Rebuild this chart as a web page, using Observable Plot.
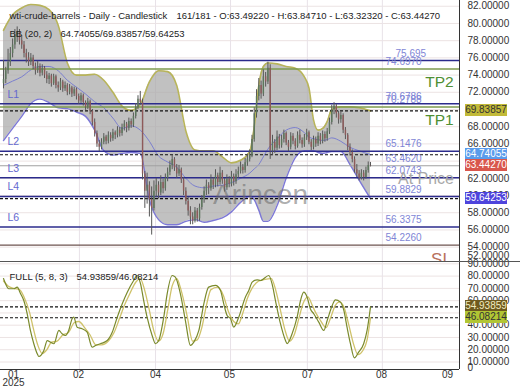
<!DOCTYPE html>
<html><head><meta charset="utf-8">
<script src="https://cdn.jsdelivr.net/npm/d3@7"></script>
<script src="https://cdn.jsdelivr.net/npm/@observablehq/plot@0.6"></script>
<style>
body{margin:0;background:#fff;}
#wrap{position:relative;width:520px;height:390px;overflow:hidden;font-family:"Liberation Sans",Arial,sans-serif;background:#fff;}
#main{position:absolute;left:0;top:0;}
#stoch{position:absolute;left:0;top:261px;}
.box{position:absolute;left:465px;width:42px;height:12px;font-size:10px;line-height:12px;text-align:center;font-family:"Liberation Sans",Arial,sans-serif;}
.hline{position:absolute;left:0;width:520px;height:1px;background:#555;}
</style></head>
<body><div id="wrap"><div id="main"></div><div id="stoch"></div></div>
<script>
// ---------- data ----------
const titleParts = ["wti-crude-barrels - Daily - Candlestick", "161/181 - O:63.49220 - H:63.84710 - L:63.32320 - C:63.44270"];
const bbParts = ["BB (20, 2)", "64.74055/69.83857/59.64253"];
const stochParts = ["FULL (5, 8, 3)", "54.93859/46.08214"];

const opens = [73.0,73.5,74.5,75.5,76.5,77.5,78.5,79.0,78.0,77.5,
76.5,76.0,75.5,76.0,75.0,74.5,75.0,74.2,74.8,74.0,
73.5,73.9,73.0,73.8,72.8,72.5,73.2,72.4,72.8,72.0,
72.5,71.8,72.3,71.5,71.0,71.6,70.8,70.3,70.9,69.8,
68.5,67.2,66.0,65.6,66.2,66.8,66.3,67.0,66.6,67.3,
67.0,67.6,67.2,67.9,68.3,67.8,68.6,68.2,69.2,70.3,
71.2,70.8,62.5,60.5,61.2,59.5,58.5,60.5,61.2,60.3,
61.5,60.8,62.0,62.7,63.5,64.2,63.2,62.5,63.0,61.8,
60.5,59.3,58.2,57.5,57.0,58.2,57.3,58.6,59.5,60.5,
61.2,60.8,61.8,61.2,62.3,61.5,62.6,61.7,60.9,61.9,
61.3,62.2,61.6,62.4,62.8,63.3,62.9,63.8,64.2,64.6,
66.5,69.5,71.5,72.8,71.8,73.8,73.2,74.8,65.2,66.2,
65.5,66.8,65.8,66.5,67.2,66.1,65.6,66.9,66.3,65.7,
67.0,66.4,65.9,66.7,67.3,66.2,65.6,66.5,66.0,66.9,
66.3,67.1,66.6,67.4,68.5,70.0,70.4,69.5,68.8,69.3,
67.6,67.0,65.6,65.0,64.2,63.0,62.5,62.0,62.6,62.1,
62.9,63.4922];
const highs = [75.7,74.9,77.0,77.2,78.2,79.3,79.6,79.3,78.6,77.9,
77.0,76.6,76.5,76.3,75.4,75.6,75.3,75.2,75.0,74.4,
74.2,74.1,74.1,74.0,73.2,73.6,73.4,73.2,73.0,72.9,
72.7,72.6,72.5,71.8,71.9,71.8,71.0,71.3,71.1,70.0,
68.9,67.5,66.4,66.6,67.2,67.0,67.4,67.3,67.7,67.5,
68.0,67.9,68.3,68.7,68.5,69.0,68.9,69.6,70.7,71.6,
72.1,71.2,62.8,62.6,61.6,61.0,61.7,62.0,61.6,62.3,
61.9,62.5,63.2,64.0,64.7,64.4,63.6,63.5,63.2,62.1,
60.9,59.8,58.7,58.0,58.6,58.5,59.0,60.0,61.0,61.8,
61.5,62.4,62.1,63.0,62.6,63.3,62.9,62.0,62.4,62.2,
62.8,62.5,63.0,63.3,63.9,63.6,64.3,64.8,65.3,67.0,
70.2,72.3,73.6,73.3,74.6,74.3,75.5,75.2,67.0,66.5,
67.5,67.1,67.0,67.6,67.4,66.4,67.3,67.2,66.6,67.4,
67.6,66.7,67.1,67.7,67.5,66.5,66.9,66.8,67.3,67.2,
67.5,67.4,67.8,69.0,70.5,70.8,70.6,69.8,69.7,69.5,
67.9,67.2,66.0,65.3,64.5,63.6,62.9,63.0,62.9,63.3,
63.9,63.8471];
const lows = [72.4,73.0,74.1,75.0,76.0,77.0,77.8,77.5,77.0,76.0,
75.4,75.0,75.1,74.6,74.0,74.2,73.8,73.9,73.6,73.0,
72.9,72.6,72.8,72.4,72.0,72.2,72.0,72.1,71.6,71.7,
71.4,71.5,71.1,70.6,70.7,70.4,69.9,70.0,69.4,68.1,
66.8,65.6,65.1,65.3,65.9,65.9,66.0,66.2,66.3,66.5,
66.7,66.8,66.9,67.5,67.3,67.5,67.8,67.9,68.9,70.0,
70.5,61.8,58.5,59.0,57.5,55.4,58.2,59.8,59.6,60.0,
60.2,60.5,61.6,62.3,63.0,62.8,62.0,62.2,61.4,60.0,
58.9,57.6,56.6,56.6,56.8,56.9,57.0,58.3,59.1,60.0,
60.1,60.5,60.7,60.9,61.0,61.2,61.3,60.4,60.6,60.9,
61.0,61.1,61.3,62.0,62.5,62.5,62.6,63.4,63.9,64.4,
66.2,69.0,71.0,71.2,71.5,72.6,72.9,64.2,64.7,64.9,
65.2,65.4,65.5,66.1,65.8,65.1,65.3,65.9,65.3,65.5,
66.0,65.5,65.6,66.4,65.9,65.2,65.3,65.6,65.7,65.9,
66.0,66.2,66.3,67.1,68.2,69.4,69.0,68.3,68.4,67.2,
66.5,65.2,64.6,63.8,62.6,62.1,61.7,61.8,61.7,61.9,
62.6,63.3232];
const closes = [73.5,74.5,75.5,76.5,77.5,78.5,79.0,78.0,77.5,76.5,
76.0,75.5,76.0,75.0,74.5,75.0,74.2,74.8,74.0,73.5,
73.9,73.0,73.8,72.8,72.5,73.2,72.4,72.8,72.0,72.5,
71.8,72.3,71.5,71.0,71.6,70.8,70.3,70.9,69.8,68.5,
67.2,66.0,65.6,66.2,66.8,66.3,67.0,66.6,67.3,67.0,
67.6,67.2,67.9,68.3,67.8,68.6,68.2,69.2,70.3,71.2,
70.8,62.5,60.5,61.2,59.5,58.5,60.5,61.2,60.3,61.5,
60.8,62.0,62.7,63.5,64.2,63.2,62.5,63.0,61.8,60.5,
59.3,58.2,57.5,57.0,58.2,57.3,58.6,59.5,60.5,61.2,
60.8,61.8,61.2,62.3,61.5,62.6,61.7,60.9,61.9,61.3,
62.2,61.6,62.4,62.8,63.3,62.9,63.8,64.2,64.6,66.5,
69.5,71.5,72.8,71.8,73.8,73.2,74.8,65.2,66.2,65.5,
66.8,65.8,66.5,67.2,66.1,65.6,66.9,66.3,65.7,67.0,
66.4,65.9,66.7,67.3,66.2,65.6,66.5,66.0,66.9,66.3,
67.1,66.6,67.4,68.5,70.0,70.4,69.5,68.8,69.3,67.6,
67.0,65.6,65.0,64.2,63.0,62.5,62.0,62.6,62.1,62.9,
63.5,63.4427];

const bbIdx = [0,4,8,12,16,20,24,28,32,36,40,44,48,52,56,60,64,68,72,76,80,84,88,92,96,100,104,108,110,112,114,116,120,124,128,132,134,136,138,140,142,144,148,152,156,161];
const bbUpper = [79.2,81.0,81.8,82.2,82.1,81.6,79.8,75.4,74.0,74.0,74.1,73.4,72.0,70.4,69.9,70.6,73.2,74.5,74.4,72.8,67.5,65.3,65.2,65.2,64.5,63.8,64.1,65.1,68.0,72.8,75.0,75.4,75.3,75.0,74.8,73.8,72.5,68.8,67.6,67.8,68.6,70.0,70.3,70.3,70.2,69.83857];
const bbMiddle = [72.8,73.3,73.8,74.6,75.0,75.0,74.5,73.4,72.6,71.8,70.9,70.2,69.0,67.8,68.1,67.6,66.3,64.6,63.9,63.3,62.0,61.1,60.9,61.1,61.2,61.5,62.0,62.6,63.1,63.6,64.5,65.4,66.6,67.6,67.9,67.3,66.8,66.6,66.5,66.4,66.5,66.7,66.3,65.6,65.2,64.74055];
const bbLower = [66.4,67.8,69.2,70.7,71.2,70.8,70.2,70.1,69.7,69.2,67.6,65.2,64.7,64.9,65.0,64.9,59.5,57.2,56.6,56.6,57.0,57.2,56.9,57.1,57.4,58.1,59.2,59.9,59.5,58.3,57.0,57.0,58.8,62.0,64.4,65.2,65.2,65.2,65.0,64.9,65.0,65.1,65.1,63.6,61.8,59.64253];
const bbNow = [69.83857, 64.74055, 59.64253];
const currentPrice = 63.44270;

const levelValues = [75.695, 74.6970, 70.6786, 70.2788, 65.1476, 63.4620, 62.0743, 59.8829, 56.3375, 54.2260];
const levelText = ["75.695","74.6970","70.6786","70.2788","65.1476","63.4620","62.0743","59.8829","56.3375","54.2260"];
const levelKind = ["navy","green","navy","green","navy","gray","navy","navy","navy","brown"];
const lNames = ["L1","L2","L3","L4","L6"];
const lValues = [70.6786, 65.1476, 62.0743, 59.8829, 56.3375];
const tpNames = ["TP2","TP1"];
const tpValues = [74.6970, 70.2788];

const kIdx = [0,0.9,2.3,4.5,6.0,7.5,8.9,10.4,11.8,13.3,14.8,15.5,17.7,19.2,20.6,22.1,24.3,25.7,27.2,28.6,30.1,30.8,32.3,34.5,36.7,38.9,40.4,42.5,45.5,47.7,49.9,52.1,54.3,57.1,58.6,60.1,61.5,63.0,65.2,66.7,68.1,70.3,71.8,74.0,75.4,77.6,79.8,82.0,83.5,85.7,87.9,90.0,93.0,95.2,96.6,98.1,99.6,101.0,103.2,106.1,107.6,109.1,111.3,112.7,116.4,117.8,119.3,121.5,123.7,124.4,126.6,128.8,130.3,131.7,133.2,134.6,136.1,138.3,140.5,142.0,144.2,145.6,147.8,149.3,150.7,152.2,153.9,155.8,158.0,159.5,161];
const kVal = [78,73.7,69.7,69.7,71,65.6,60.1,49.3,35.7,24.9,16.7,14.5,19.4,27.5,26.2,24.9,35.7,33,31.6,35.7,45.2,46.5,38.4,37.1,34.3,22.1,23.5,24.9,27.5,34.3,46.5,57.5,66.9,76.4,80.5,73.8,60.1,46.5,31.6,24.9,27.5,46.5,65.6,80.5,79.1,65.6,43.8,23.5,26.2,35.7,57.5,71,72.4,68.3,57.5,47.9,45.2,38.4,46.5,62.8,68.3,75.1,77,76.4,80.5,73.8,60.1,41.2,27.5,24.9,33,46.5,60.1,66.9,62.8,53.4,49.3,42.5,35.7,43.8,56.1,60.7,58.8,52,38.4,24.9,13.4,18,24.9,35.7,54.93859];
const dIdx = [0,2,4.5,7,9,11.5,13,15,17,19,21,23.5,26,28.5,31,33,36,38,40.5,43,46,48.5,51,53,55.5,58,60,62,64,66,68,70,72,74,76,78,80.5,83,85,87,89,91,94,96.5,98.5,101,103,105,107,109,112,114,117.5,119.5,121.5,123.5,125.5,127.5,129.5,131.5,133.5,135.5,137,139,141.5,143.5,145.5,147.5,149.5,151.5,153.5,155.5,157.5,159.5,161];
const dVal = [76,72,70,69,63,50,38,24,17,20,26,27,32,34,42,43,37,32,24,24,27,34,46,56,66,75,78,68,52,35,27,33,52,72,78,68,48,27,28,38,56,69,71,64,52,43,41,50,62,70,76,77,78,68,52,36,27,32,45,58,63,56,50,44,38,46,56,59,54,40,25,16,19,28,46.08214];
const stochNow = [54.93859, 46.08214];

const monthPos = [4.4, 32.9, 66.7, 99.1, 133.4, 165.8, 194.8];
const monthLabels = ["01","02","04","05","07","08","09"];
const yearLabel = "2025";
const gridPos = [33.3, 66.7, 99.6, 133.3, 166.2];
const mainGrid = [54,56,58,60,62,64,66,68,70,72,74,76,78,80,82];
const mainTickLabels = [54,56,58,60,62,66,68,72,74,76,78,80,82]; // 64 and 70 sit under value boxes
const stochGrid = [10,20,30,40,50,60,70,80,90];
const stochTickLabels = [10,20,30,40,60,70,80,90];      // 50 sits under value boxes

// ---------- layout ----------
const xDomain = [-1.316, 200.04];
const mainDomain = [52.33, 82.67];
const stochDomain = [3.9, 91.9];
const FONT = "Liberation Sans, Arial, sans-serif";

const candles = closes.map((c, i) => ({i, o: opens[i], h: highs[i], l: lows[i], c}));
const upC = candles.filter(d => d.c >= d.o), dnC = candles.filter(d => d.c < d.o);
const bb = bbIdx.map((i, k) => ({i, up: bbUpper[k], mid: bbMiddle[k], lo: bbLower[k]}));
const levels = levelValues.map((v, k) => ({v, t: levelText[k], kind: levelKind[k]}));
const lLabels = lNames.map((t, k) => ({t, v: lValues[k]}));
const tps = tpNames.map((t, k) => ({t, v: tpValues[k]}));
const kLine = kIdx.map((i, k) => ({i, v: kVal[k]}));
const dLine = dIdx.map((i, k) => ({i, v: dVal[k]}));
const monthMap = new Map(monthPos.map((p, k) => [p, monthLabels[k]]));
const curve = "monotone-x";
const kindStyle = {navy: ["#2b2b8c", 1.5], green: ["#7c9a4e", 1.5], gray: ["#a0a0a0", 1.2], brown: ["#6e5550", 1.3]};

const mainPlot = Plot.plot({
  width: 520, height: 261,
  marginLeft: 0, marginRight: 61, marginTop: 0, marginBottom: 0,
  style: {fontFamily: FONT, fontSize: "10px", background: "#fff", overflow: "visible"},
  x: {domain: xDomain, axis: null, label: null},
  y: {domain: mainDomain, label: null},
  marks: [
    Plot.gridY(mainGrid, {stroke: "#ece3e3", strokeOpacity: 1}),
    Plot.gridX(gridPos, {stroke: "#e8e2e8", strokeOpacity: 1}),
    Plot.areaY(bb, {x: "i", y1: "lo", y2: "up", fill: "#a9a9a9", fillOpacity: 0.72, curve}),
    Plot.line(bb, {x: "i", y: "mid", stroke: "#7b7fcf", strokeWidth: 1, curve}),
    Plot.line(bb, {x: "i", y: "up", stroke: "#b8b45a", strokeWidth: 1.6, curve}),
    Plot.line(bb, {x: "i", y: "lo", stroke: "#7d78d6", strokeWidth: 1.4, curve}),
    ...Object.entries(kindStyle).map(([kind, [col, w]]) =>
      Plot.ruleY(levels.filter(d => d.kind === kind), {y: "v", stroke: col, strokeWidth: w})),
    Plot.ruleY(bbNow, {stroke: "#111", strokeWidth: 1.1, strokeDasharray: "3,2"}),
    Plot.ruleX(candles, {x: "i", y1: "l", y2: "h", stroke: "#575757", strokeWidth: 1}),
    Plot.ruleX(upC, {x: "i", y1: "o", y2: "c", stroke: "#5c775c", strokeWidth: 1.4}),
    Plot.ruleX(dnC, {x: "i", y1: "o", y2: "c", stroke: "#8e5a5a", strokeWidth: 1.4}),
    Plot.text(["Arincen"], {text: d => d, frameAnchor: "middle", dx: 30.5, dy: 64.5, fontSize: 28, fill: "#6a6a6a", fillOpacity: 0.55, textAnchor: "middle"}),
    Plot.text([levels[0]], {y: "v", text: "t", frameAnchor: "right", dx: -64, dy: -7, textAnchor: "start", fill: "#7f86d6", fontSize: 10}),
    Plot.text(levels.slice(1), {y: "v", text: "t", frameAnchor: "right", dx: -74, dy: -7, textAnchor: "start", fill: "#7f86d6", fontSize: 10}),
    Plot.text(lLabels, {y: "v", text: "t", frameAnchor: "left", dx: 7, dy: -9.5, textAnchor: "start", fill: "#6468cf", fontSize: 10.5}),
    Plot.text(tps, {y: "v", text: "t", frameAnchor: "right", dx: -20, dy: 12.5, textAnchor: "middle", fill: "#4f8f33", fontSize: 15.5}),
    Plot.text([currentPrice], {y: d => d, text: () => "At Price", frameAnchor: "right", dx: -33.5, dy: 12.6, textAnchor: "middle", fill: "#a8a8a8", fontSize: 16}),
    Plot.text(["SL"], {text: d => d, frameAnchor: "bottom-right", dx: -18, dy: 3, textAnchor: "middle", fill: "#b8705c", fontSize: 17}),
    Plot.text([titleParts[0]], {text: d => d, frameAnchor: "top-left", dx: 9, dy: 12, textAnchor: "start", fill: "#222", fontSize: 9.5}),
    Plot.text([titleParts[1]], {text: d => d, frameAnchor: "top-left", dx: 176, dy: 12, textAnchor: "start", fill: "#222", fontSize: 9.5}),
    Plot.text([bbParts[0]], {text: d => d, frameAnchor: "top-left", dx: 9, dy: 30, textAnchor: "start", fill: "#222", fontSize: 9.5}),
    Plot.text([bbParts[1]], {text: d => d, frameAnchor: "top-left", dx: 60, dy: 30, textAnchor: "start", fill: "#222", fontSize: 9.5}),
    Plot.ruleX([xDomain[1]], {stroke: "#333", strokeWidth: 1}),
    Plot.axisY({anchor: "right", ticks: mainTickLabels, tickFormat: d => d.toFixed(5), tickSize: 0, tickPadding: 8, fill: "#333", fontSize: 10, label: null}),
    Plot.axisY({anchor: "right", ticks: [52], tickFormat: d => d.toFixed(5), tickSize: 0, tickPadding: 8, dy: -9, fill: "#333", fontSize: 10, label: null})
  ]
});
document.getElementById("main").appendChild(mainPlot);

const stochPlot = Plot.plot({
  width: 520, height: 129,
  marginLeft: 0, marginRight: 61, marginTop: 0, marginBottom: 21,
  style: {fontFamily: FONT, fontSize: "10px", background: "#fff", overflow: "visible"},
  x: {domain: xDomain, label: null},
  y: {domain: stochDomain, label: null},
  marks: [
    Plot.gridY(stochGrid, {stroke: "#ece3e3", strokeOpacity: 1}),
    Plot.gridX(gridPos, {stroke: "#e8e2e8", strokeOpacity: 1}),
    Plot.ruleY(stochNow, {stroke: "#111", strokeWidth: 1.1, strokeDasharray: "3,2"}),
    Plot.line(dLine, {x: "i", y: "v", stroke: "#cfc26a", strokeWidth: 1.3, curve}),
    Plot.line(kLine, {x: "i", y: "v", stroke: "#7a8a2c", strokeWidth: 1.2, curve}),
    Plot.text([stochParts[0]], {text: d => d, frameAnchor: "top-left", dx: 9, dy: 12, textAnchor: "start", fill: "#222", fontSize: 9.5}),
    Plot.text([stochParts[1]], {text: d => d, frameAnchor: "top-left", dx: 76, dy: 12, textAnchor: "start", fill: "#222", fontSize: 9.5}),
    Plot.ruleY([stochDomain[0]], {stroke: "#333", strokeWidth: 1}),
    Plot.ruleX([xDomain[1]], {stroke: "#333", strokeWidth: 1}),
    Plot.axisY({anchor: "right", ticks: stochTickLabels, tickFormat: d => d.toFixed(5), tickSize: 0, tickPadding: 8, fill: "#333", fontSize: 10, label: null}),
    Plot.axisY({anchor: "right", ticks: [0], tickFormat: d => String(d), tickSize: 0, tickPadding: 8, dy: -6, fill: "#333", fontSize: 10, label: null}),
    Plot.axisX({anchor: "bottom", ticks: monthPos, tickFormat: d => monthMap.get(d), tickSize: 0, tickPadding: 1, fill: "#333", fontSize: 10, label: null}),
    Plot.text([yearLabel], {text: d => d, x: () => monthPos[0], frameAnchor: "bottom", dy: 16, textAnchor: "middle", fill: "#333", fontSize: 10})
  ]
});
document.getElementById("stoch").appendChild(stochPlot);

// ---------- overlays: divider & value boxes ----------
const wrap = document.getElementById("wrap");
const hl = document.createElement("div"); hl.className = "hline"; hl.style.top = "261px"; wrap.appendChild(hl);
function addBox(top, text, bg, fg) {
  const d = document.createElement("div");
  d.className = "box"; d.style.top = (top - 6) + "px";
  d.style.background = bg; d.style.color = fg; d.textContent = text;
  wrap.appendChild(d);
}
const ym = mainPlot.scale("y"), ys = stochPlot.scale("y");
const mainBoxes = [[bbNow[0], "#c2ba38", "#333"], [bbNow[1], "#5a9cec", "#fff"], [currentPrice, "#d9574c", "#fff"], [bbNow[2], "#4e44dc", "#fff"]];
mainBoxes.forEach(([v, bg, fg]) => addBox(ym.apply(v), v.toFixed(5), bg, fg));
const stochBoxes = [[stochNow[0], "#6e5a1e", "#f2ecc0"], [stochNow[1], "#b2c634", "#333"]];
stochBoxes.forEach(([v, bg, fg]) => addBox(261 + ys.apply(v), v.toFixed(5), bg, fg));
</script>
</body></html>
